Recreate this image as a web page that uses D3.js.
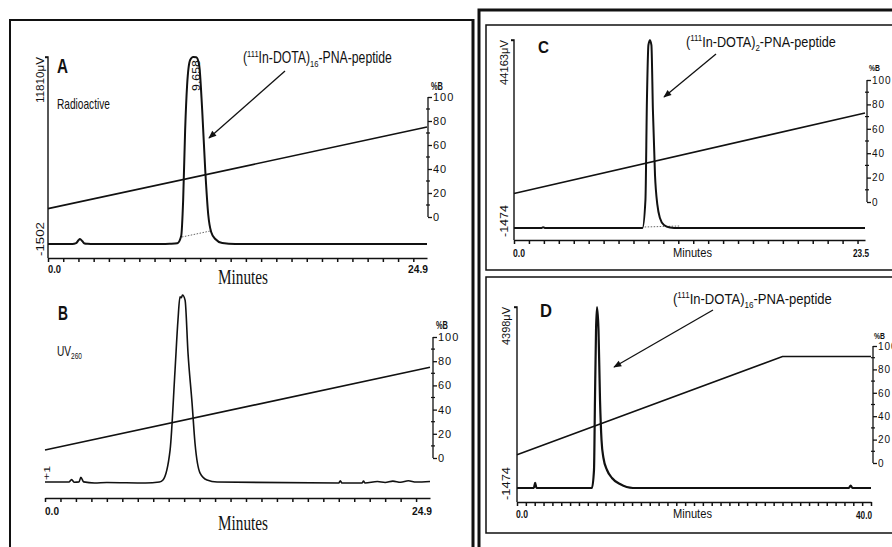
<!DOCTYPE html>
<html>
<head>
<meta charset="utf-8">
<script src="https://cdn.jsdelivr.net/npm/d3@7"></script>
<style>
  body { margin: 0; background: #fff; }
  svg { display: block; background: #fff; }
  text { font-family: Arial, "Liberation Sans", sans-serif; fill: #111; }
</style>
</head>
<body>
<svg id="chart" width="892" height="547"></svg>
<script>
// ---- values ----
// A: radioactivity trace, [time (min), signal (µV)]
const traceA = [[0, -580], [1.6, -580], [1.85, -520], [2.0, -330], [2.1, -250], [2.25, -380], [2.4, -540],
  [2.6, -560], [3.0, -580], [7.5, -580], [8.0, -560], [8.5, -520], [8.75, -45], [8.88, 2340], [9.01, 6975],
  [9.14, 9955], [9.34, 11610], [9.54, 11810], [9.74, 11790], [9.93, 11280], [10.13, 8300], [10.33, 4325],
  [10.53, 1345], [10.72, 220], [10.99, -245], [11.45, -510], [12.3, -575], [24.9, -580]];
const baseA = [[8.8, -112], [10.66, 286]];
const gradA = [[0, 7], [24.9, 75]];

// B: UV 260 trace, [time (min), relative absorbance]
const traceB = [[0, 0.005], [1.55, 0.005], [1.72, 0.018], [1.9, 0.004], [2.2, 0.006], [2.32, 0.03], [2.5, 0.006],
  [3.2, 0.0], [4.0, 0.003], [6.5, 0.0], [7.4, 0.005], [7.63, 0.016], [8.09, 0.175], [8.41, 0.6], [8.6, 0.867],
  [8.73, 0.99], [8.82, 0.985], [8.89, 1.0], [9.06, 0.973], [9.25, 0.69], [9.51, 0.426], [9.7, 0.213],
  [10.03, 0.053], [10.48, 0.016], [11.13, 0.005], [19.0, 0.0], [19.1, 0.012], [19.2, 0.0], [20.5, 0.0],
  [20.6, 0.01], [20.7, 0.0], [21.5, 0.008], [22.0, 0.003], [22.5, 0.01], [23.0, 0.004], [23.5, 0.012],
  [24.0, 0.005], [24.9, 0.008]];
const gradB = [[0, 6.6], [24.9, 75]];

// C: [time (min), signal (µV)]
const traceC = [[0, 1264], [1.85, 1264], [1.95, 1450], [2.1, 1264], [8.6, 1264], [8.8, 7658], [8.9, 30490],
  [9.0, 43020], [9.1, 44100], [9.2, 43000], [9.3, 28200], [9.44, 13370], [9.6, 6517], [9.77, 3549],
  [10.04, 1950], [10.44, 1400], [11.0, 1264], [23.5, 1264]];
const baseC = [[8.75, 1496], [11.1, 1724]];
const gradC = [[0, 7], [23.5, 73]];

// D: [time (min), signal (µV)]
const traceD = [[0, -1052], [1.9, -1052], [2.05, -900], [2.2, -1052], [8.47, -1052], [8.7, -510], [8.81, 1598],
  [8.93, 3707], [9.04, 4398], [9.21, 3707], [9.38, 1598], [9.55, 393], [9.77, -149], [10.17, -510],
  [10.73, -751], [11.64, -932], [13.1, -1052], [37.5, -1052], [37.7, -980], [37.9, -1052], [40, -1052]];
const gradD = [[0, 7], [30, 91], [40, 91]];

const pctTicks = [0, 20, 40, 60, 80, 100];
const pctMinor = [10, 30, 50, 70, 90];

const svg = d3.select("#chart");
const noLabel = () => "";

svg.append("defs").append("marker")
  .attr("id", "ah").attr("viewBox", "0 0 10 10").attr("refX", 9).attr("refY", 5)
  .attr("markerWidth", 9).attr("markerHeight", 8).attr("markerUnits", "userSpaceOnUse").attr("orient", "auto")
  .append("path").attr("d", "M0,1 L10,5 L0,9 Z").attr("fill", "#111");

// frames
const frames = svg.append("g").attr("fill", "none").attr("stroke", "#111");
frames.append("path").attr("d", "M10,547 V20 H473").attr("stroke-width", 2);
frames.append("path").attr("d", "M473,19 V547").attr("stroke-width", 3);
frames.append("path").attr("d", "M479,547 V10 H892").attr("stroke-width", 3);
frames.append("path").attr("d", "M892,25 H486 V270 H892").attr("stroke-width", 1.5);
frames.append("path").attr("d", "M892,277 H486 V533 H892").attr("stroke-width", 1.5);

function fit(t, x, y, w, rot) {
  const len = t.node().getComputedTextLength();
  t.attr("transform", `translate(${x},${y})${rot ? " rotate(-90)" : ""} scale(${w / len},1)`);
  return t;
}
function txt(x, y, s, size, w, opts = {}) {
  const t = svg.append("text").attr("font-size", size).text(s);
  if (opts.bold) t.attr("font-weight", opts.bold === true ? "bold" : opts.bold);
  if (opts.family) t.style("font-family", opts.family);
  return fit(t, x, y, w, opts.rot);
}
function chem(x, y, size, sub, w) {
  const t = svg.append("text").attr("font-size", size);
  t.append("tspan").text("(");
  t.append("tspan").text("111").attr("font-size", size * 0.62).attr("dy", -size * 0.38);
  t.append("tspan").text("In-DOTA)").attr("dy", size * 0.38);
  t.append("tspan").text(sub).attr("font-size", size * 0.62).attr("dy", size * 0.28);
  t.append("tspan").text("-PNA-peptide").attr("dy", -size * 0.28);
  return fit(t, x, y, w);
}
function arrow(x1, y1, x2, y2) {
  svg.append("line").attr("x1", x1).attr("y1", y1).attr("x2", x2).attr("y2", y2)
    .attr("stroke", "#111").attr("stroke-width", 1.3).attr("marker-end", "url(#ah)");
}

function panel(p) {
  const x = d3.scaleLinear().domain([0, p.tEnd]).range([p.x0, p.x1]);
  const y = d3.scaleLinear().domain(p.yDomain).range(p.yRange);
  const pct = d3.scaleLinear().domain([0, 100]).range(p.pctRange);
  const g = svg.append("g");

  // time axis, one tick per minute
  g.append("g").attr("class", "time-axis").attr("transform", `translate(0,${p.axisY})`)
    .call(d3.axisBottom(x).tickValues(d3.range(0, Math.floor(p.tEnd) + 1)).tickSize(4).tickSizeOuter(0).tickFormat(noLabel))
    .call(a => a.selectAll("path,line").attr("stroke", "#111").attr("stroke-width", 1.5));

  // signal axis
  if (p.yAxis) {
    g.append("g").attr("class", "sig-axis").attr("transform", `translate(${p.x0},0)`)
      .call(d3.axisLeft(y).tickValues([p.yDomain[1]]).tickSize(3).tickSizeOuter(0).tickFormat(noLabel))
      .call(a => a.select(".domain").attr("d", `M-3,${p.yRange[1]}H0V${p.axisY}`))
      .call(a => a.selectAll("path,line").attr("stroke", "#111").attr("stroke-width", 1.4));
  }

  // %B axis
  const ra = g.append("g").attr("transform", `translate(${p.pctX},0)`)
    .call(d3.axisRight(pct).tickValues(pctTicks).tickSize(4).tickPadding(1).tickSizeOuter(0))
    .call(a => a.selectAll("path,line").attr("stroke", "#111").attr("stroke-width", 1.3))
    .call(a => a.selectAll("text").attr("font-size", p.pctFont).attr("letter-spacing", 1)
      .style("font-family", "Arial, sans-serif").attr("fill", "#111"));
  ra.selectAll(".minor").data(pctMinor).join("line").attr("class", "minor")
    .attr("x1", -2).attr("x2", 2).attr("y1", d => pct(d)).attr("y2", d => pct(d))
    .attr("stroke", "#111").attr("stroke-width", 1.2);
  ra.select(".domain").attr("d", `M0,${p.pctRange[0]}V${p.pctRange[1]}`);

  // gradient line
  g.append("path").datum(p.grad)
    .attr("d", d3.line().x(d => x(d[0])).y(d => pct(d[1])))
    .attr("fill", "none").attr("stroke", "#111").attr("stroke-width", 1.6);

  // dotted integration baseline
  if (p.base) {
    g.append("path").datum(p.base)
      .attr("d", d3.line().x(d => x(d[0])).y(d => y(d[1])))
      .attr("fill", "none").attr("stroke", "#666").attr("stroke-width", 1).attr("stroke-dasharray", "1.5,1.5");
  }

  // chromatogram
  g.append("path").datum(p.trace)
    .attr("d", d3.line().x(d => x(d[0])).y(d => y(d[1])).curve(d3.curveMonotoneX))
    .attr("fill", "none").attr("stroke", "#111").attr("stroke-width", p.sw).attr("stroke-linejoin", "round");
}

panel({ trace: traceA, grad: gradA, base: baseA, tEnd: 24.9, x0: 48, x1: 427, yDomain: [-1502, 11810],
  yRange: [258, 57], axisY: 258, yAxis: true, pctX: 428, pctRange: [217, 97], pctFont: 11, sw: 2 });
panel({ trace: traceB, grad: gradB, tEnd: 24.9, x0: 45, x1: 430, yDomain: [0, 1],
  yRange: [483, 295], axisY: 498, yAxis: false, pctX: 433, pctRange: [458, 337], pctFont: 11, sw: 1.6 });
panel({ trace: traceC, grad: gradC, base: baseC, tEnd: 23.5, x0: 514, x1: 865, yDomain: [-1474, 44163],
  yRange: [240, 40], axisY: 240, yAxis: true, pctX: 867, pctRange: [202, 80], pctFont: 10, sw: 2 });
panel({ trace: traceD, grad: gradD, tEnd: 40, x0: 517, x1: 871, yDomain: [-1474, 4398],
  yRange: [502, 307], axisY: 502, yAxis: true, pctX: 873, pctRange: [463, 346], pctFont: 10, sw: 2.2 });

const serif = "'Liberation Serif', 'Times New Roman', serif";

// ---- texts panel A ----
txt(57, 73, "A", 21, 11, { bold: true });
txt(57, 109, "Radioactive", 15, 53);
chem(243, 63, 16, "16", 149);
arrow(285, 71, 209, 138);
txt(200, 91, "9.658", 10, 31, { rot: true });
txt(44, 103, "11810\u03bcV", 11, 46, { rot: true });
txt(44, 256, "-1502", 11, 34, { rot: true });
txt(48, 273, "0.0", 11, 13, { bold: 600 });
txt(408, 273, "24.9", 11, 20, { bold: 600 });
txt(218, 284, "Minutes", 21, 50, { family: serif });
txt(431, 90, "%B", 10, 12, { bold: true });

// ---- texts panel B ----
txt(58, 320, "B", 21, 10, { bold: true });
(function () {
  const t = svg.append("text").attr("font-size", 14);
  t.append("tspan").text("UV");
  t.append("tspan").text("260").attr("font-size", 9).attr("dy", 3);
  fit(t, 57, 356, 25);
})();
txt(50, 480, "+1", 9, 14, { rot: true });
txt(45, 515, "0.0", 11, 14, { bold: 600 });
txt(412, 515, "24.9", 11, 20, { bold: 600 });
txt(218, 530, "Minutes", 21, 50, { family: serif });
txt(436, 329, "%B", 10, 12, { bold: true });

// ---- texts panel C ----
txt(538, 53, "C", 17, 11, { bold: true });
chem(686, 47, 15, "2", 150);
arrow(716, 54, 664, 97);
txt(508, 85, "44163\u03bcV", 10, 45, { rot: true });
txt(508, 237, "-1474", 10, 32, { rot: true });
txt(513, 257, "0.0", 10, 12, { bold: 600 });
txt(853, 257, "23.5", 10, 16, { bold: 600 });
txt(673, 257, "Minutes", 12, 39);
txt(869, 71, "%B", 9, 11, { bold: true });

// ---- texts panel D ----
txt(540, 317, "D", 18, 12, { bold: true });
chem(673, 304, 15, "16", 159);
arrow(713, 310, 614, 367);
txt(510, 345, "4398\u03bcV", 10, 38, { rot: true });
txt(510, 500, "-1474", 10, 33, { rot: true });
txt(516, 518, "0.0", 10, 12, { bold: 600 });
txt(856, 519, "40.0", 10, 16, { bold: 600 });
txt(673, 518, "Minutes", 12, 39);
txt(874, 339, "%B", 9, 11, { bold: true });

// keep the axes on top of everything else
svg.selectAll(".time-axis, .sig-axis").raise();
</script>
</body>
</html>
